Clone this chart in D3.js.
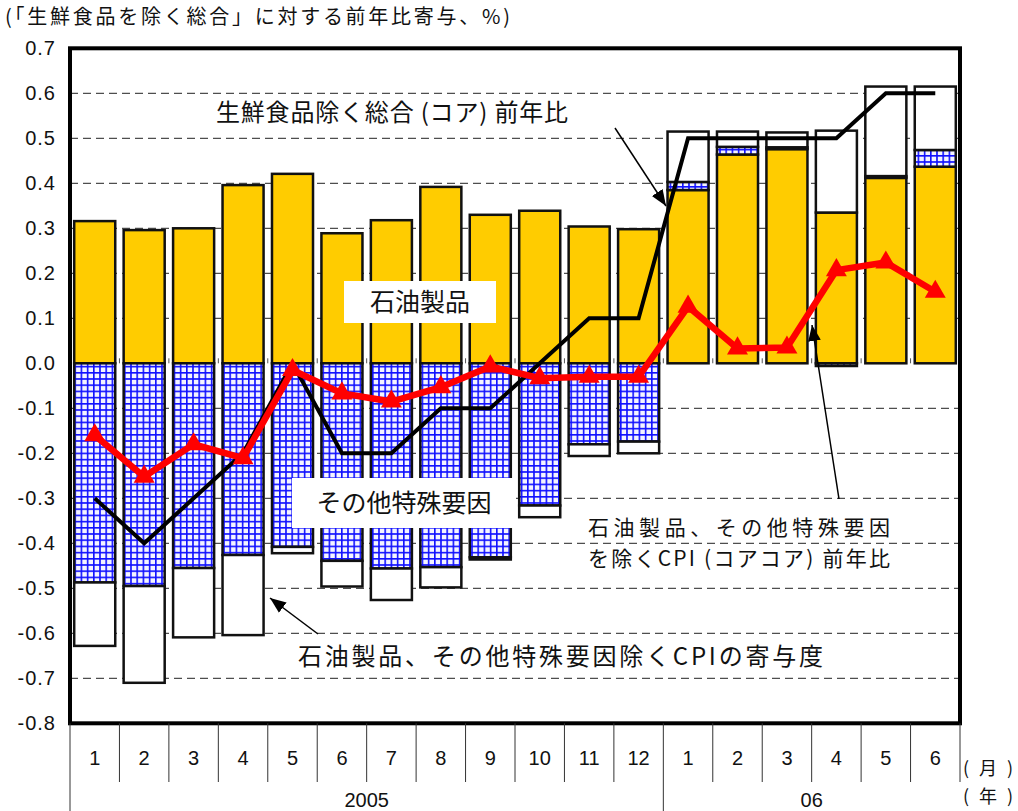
<!DOCTYPE html>
<html>
<head>
<meta charset="utf-8">
<script src="https://cdn.jsdelivr.net/npm/d3@7"></script>
<style>
  body { margin: 0; background: #fff; }
  svg { display: block; }
  .jp { font-family: "Noto Sans CJK JP", sans-serif; fill: #111; }
  .num { font-family: "Liberation Sans", Arial, sans-serif; fill: #111; }
  .narrow { font-family: "Liberation Sans Narrow", "Liberation Sans", sans-serif; fill: #111; }
</style>
</head>
<body>
<div id="chart"></div>
<script>
// months on the category axis
const monthLabels = ["1","2","3","4","5","6","7","8","9","10","11","12","1","2","3","4","5","6"]
const years = [ { label: "2005", from: 0, to: 12 }, { label: "06", from: 12, to: 18 } ]

// contributions (% pt)
const petroleum = [0.316, 0.296, 0.300, 0.396, 0.421, 0.289, 0.318, 0.392, 0.330, 0.339, 0.304, 0.298,
                   0.385, 0.464, 0.476, 0.335, 0.412, 0.437]
const special   = [-0.487, -0.495, -0.455, -0.426, -0.408, -0.439, -0.456, -0.453, -0.431, -0.316, -0.180, -0.174,
                   0.018, 0.017, 0.004, -0.006, 0.004, 0.037]
const residual  = [-0.141, -0.215, -0.154, -0.178, -0.014, -0.057, -0.070, -0.045, -0.005, -0.026, -0.026, -0.026,
                   0.112, 0.034, 0.033, 0.182, 0.199, 0.141]

// lines
const core     = [-0.3, -0.4, -0.3, -0.2, 0.0, -0.2, -0.2, -0.1, -0.1, 0.0, 0.1, 0.1, 0.5, 0.5, 0.5, 0.5, 0.6, 0.6]
const coreCore = [-0.160, -0.252, -0.180, -0.211, -0.015, -0.067, -0.085, -0.053, -0.007, -0.033, -0.030, -0.030,
                  0.126, 0.033, 0.035, 0.207, 0.224, 0.159]

const yTicks = d3.range(-8, 8).map(d => d / 10)

const width = 1018
const height = 811
const plotLeft = 70, plotRight = 960, plotTop = 48.3, plotBottom = 723.3

const svg = d3.select("#chart").append("svg")
  .attr("width", width)
  .attr("height", height)

const defs = svg.append("defs")
const pat = defs.append("pattern")
  .attr("id", "grid")
  .attr("patternUnits", "userSpaceOnUse")
  .attr("width", 6.2).attr("height", 6.2)
pat.append("rect").attr("width", 6.2).attr("height", 6.2).attr("fill", "#1010ff")
pat.append("rect").attr("x", 1.6).attr("y", 1.6).attr("width", 4.6).attr("height", 4.6).attr("fill", "#f4f4ff")

defs.append("marker")
  .attr("id", "arrowBig")
  .attr("viewBox", "0 0 10 10")
  .attr("refX", 10).attr("refY", 5)
  .attr("markerWidth", 16).attr("markerHeight", 16)
  .attr("markerUnits", "userSpaceOnUse")
  .attr("orient", "auto")
  .append("path").attr("d", "M0,1 L10,5 L0,9 Z").attr("fill", "#000")

const idx = d3.range(monthLabels.length)
const x = d3.scaleBand()
  .domain(idx)
  .range([plotLeft, plotRight])
  .paddingInner(0.17)
  .paddingOuter(0.085)
const step = x.step()
const cx = i => x(i) + x.bandwidth() / 2

const y = d3.scaleLinear().domain([-0.8, 0.7]).range([plotBottom, plotTop])

// dashed grid
svg.append("g")
  .selectAll("line")
  .data(yTicks.filter(d => d !== 0 && d > -0.8))
  .join("line")
    .attr("x1", plotLeft).attr("x2", plotRight)
    .attr("y1", d => y(d)).attr("y2", d => y(d))
    .attr("stroke", "#222")
    .attr("stroke-width", 1)
    .attr("stroke-dasharray", "8,5")

// small ticks on the zero line at category boundaries
svg.append("g")
  .selectAll("line")
  .data(d3.range(1, monthLabels.length))
  .join("line")
    .attr("x1", i => plotLeft + i * step).attr("x2", i => plotLeft + i * step)
    .attr("y1", y(0)).attr("y2", y(0) - 5)
    .attr("stroke", "#555")

// stacked bars
const table = idx.map(i => ({ i, petroleum: petroleum[i], special: special[i], residual: residual[i] }))
const stack = d3.stack()
  .keys(["petroleum", "special", "residual"])
  .offset(d3.stackOffsetDiverging)
const series = stack(table)
const fills = { petroleum: "#ffcc00", special: "url(#grid)", residual: "#fff" }

svg.append("g")
  .selectAll("g")
  .data(series)
  .join("g")
    .attr("fill", d => fills[d.key])
  .selectAll("rect")
  .data(d => d)
  .join("rect")
    .attr("x", d => x(d.data.i))
    .attr("width", x.bandwidth())
    .attr("y", d => y(Math.max(d[0], d[1])))
    .attr("height", d => Math.abs(y(d[0]) - y(d[1])))
    .attr("stroke", "#111")
    .attr("stroke-width", 2.5)

// label boxes over the bars
function boxLabel(text, bx, by, bw, bh) {
  svg.append("rect").attr("x", bx).attr("y", by).attr("width", bw).attr("height", bh).attr("fill", "#fff")
  svg.append("text").attr("class", "jp")
    .attr("x", bx + bw / 2).attr("y", by + bh / 2 + 9)
    .attr("text-anchor", "middle")
    .style("font-size", "25px")
    .text(text)
}
boxLabel("石油製品", 344, 281, 152, 42)
boxLabel("その他特殊要因", 292, 478, 224, 50)

// core line
const line = d3.line().x((d, i) => cx(i)).y(d => y(d))
svg.append("path")
  .attr("d", line(core))
  .attr("fill", "none")
  .attr("stroke", "#000")
  .attr("stroke-width", 4)
  .attr("stroke-linejoin", "miter")

// core-core line
svg.append("path")
  .attr("d", line(coreCore))
  .attr("fill", "none")
  .attr("stroke", "#ff0000")
  .attr("stroke-width", 6.5)
  .attr("stroke-linejoin", "miter")

svg.append("g")
  .selectAll("path")
  .data(coreCore)
  .join("path")
    .attr("d", d3.symbol(d3.symbolTriangle, 190))
    .attr("transform", (d, i) => `translate(${cx(i)},${y(d)})`)
    .attr("fill", "#ff0000")

// plot frame
svg.append("rect")
  .attr("x", plotLeft).attr("y", plotTop)
  .attr("width", plotRight - plotLeft).attr("height", plotBottom - plotTop)
  .attr("fill", "none")
  .attr("stroke", "#000")
  .attr("stroke-width", 4)

// y axis labels
const yAxis = d3.axisLeft(y).tickValues(yTicks).tickSize(0).tickPadding(14)
  .tickFormat(d => d.toFixed(1))
const ya = svg.append("g").attr("transform", `translate(${plotLeft},0)`).call(yAxis)
ya.select(".domain").remove()
ya.selectAll("text")
  .attr("class", "num")
  .style("font-size", "20px")
  .style("letter-spacing", "1px")

// category axis table
const axisG = svg.append("g")
axisG.selectAll("line.m")
  .data(d3.range(0, monthLabels.length + 1))
  .join("line")
    .attr("x1", i => plotLeft + i * step).attr("x2", i => plotLeft + i * step)
    .attr("y1", plotBottom).attr("y2", i => (i === 0 || i === 12) ? height : 782)
    .attr("stroke", "#333")
axisG.selectAll("text.m")
  .data(idx)
  .join("text")
    .attr("class", "narrow")
    .attr("x", i => cx(i))
    .attr("y", 765)
    .attr("text-anchor", "middle")
    .style("font-size", "20px")
    .text(i => monthLabels[i])
axisG.selectAll("text.y")
  .data(years)
  .join("text")
    .attr("class", "narrow")
    .attr("x", d => plotLeft + (d.from + d.to) / 2 * step)
    .attr("y", 807)
    .attr("text-anchor", "middle")
    .style("font-size", "20px")
    .text(d => d.label)
svg.append("text").attr("class", "jp").attr("x", 963).attr("y", 775)
  .attr("textLength", 50).style("font-size", "18px").text("( 月 )")
svg.append("text").attr("class", "jp").attr("x", 963).attr("y", 803)
  .attr("textLength", 50).style("font-size", "18px").text("( 年 )")

// title
svg.append("text").attr("class", "jp")
  .attr("x", 5).attr("y", 24)
  .attr("textLength", 505)
  .style("font-size", "20px")
  .text("(「生鮮食品を除く総合」に対する前年比寄与、%)")

// annotations
svg.append("text").attr("class", "jp")
  .attr("x", 216).attr("y", 121)
  .attr("textLength", 352)
  .style("font-size", "24px")
  .text("生鮮食品除く総合 (コア) 前年比")
svg.append("line")
  .attr("x1", 615).attr("y1", 128).attr("x2", 666).attr("y2", 206)
  .attr("stroke", "#000").attr("stroke-width", 1.5)
  .attr("marker-end", "url(#arrowBig)")

svg.append("text").attr("class", "jp").style("font-size", "21px")
  .attr("x", 588).attr("y", 535).attr("textLength", 302).text("石油製品、その他特殊要因")
svg.append("text").attr("class", "jp").style("font-size", "21px")
  .attr("x", 588).attr("y", 566).attr("textLength", 302).text("を除くCPI (コアコア) 前年比")
svg.append("line")
  .attr("x1", 839).attr("y1", 499).attr("x2", 812).attr("y2", 325)
  .attr("stroke", "#000").attr("stroke-width", 1.5)
  .attr("marker-end", "url(#arrowBig)")

svg.append("text").attr("class", "jp")
  .attr("x", 298).attr("y", 665)
  .attr("textLength", 525)
  .style("font-size", "24px")
  .text("石油製品、その他特殊要因除くCPIの寄与度")
svg.append("line")
  .attr("x1", 318).attr("y1", 634).attr("x2", 270).attr("y2", 598)
  .attr("stroke", "#000").attr("stroke-width", 1.5)
  .attr("marker-end", "url(#arrowBig)")
</script>
</body>
</html>
